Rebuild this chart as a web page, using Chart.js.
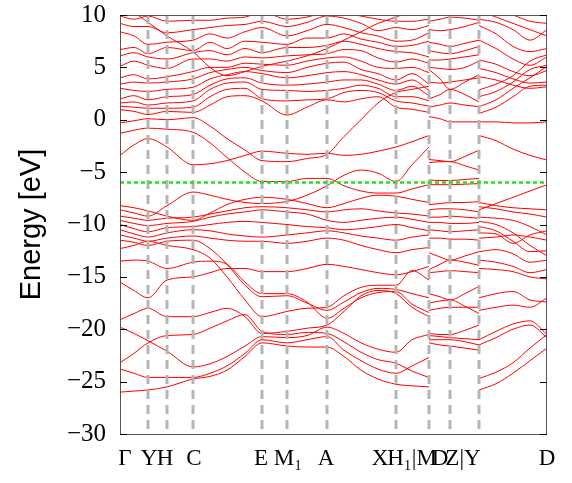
<!DOCTYPE html>
<html>
<head>
<meta charset="utf-8">
<script src="https://cdn.jsdelivr.net/npm/chart.js@4"></script>
<style>
  body { margin: 0; background: #fff; }
  #wrap { width: 572px; height: 483px; }
</style>
</head>
<body>
<div id="wrap"><canvas id="bands"></canvas></div>
<script>
// high-symmetry points along the path (arbitrary k units)
const kSym = [28, 47, 73, 142, 167, 207, 276, 309, 330, 359];
// label positions as they sit under the axis
const kTicks = [5, 29, 45, 74, 141, 168, 206, 260, 292, 320, 343, 427];
const kLabels = ['Γ', 'Y', 'H', 'C', 'E', 'M₁', 'A', 'X', 'H₁|M', 'D', 'Z|Y', 'D'];
const fermiLevel = -6;

// segment Γ ... H1
const kA = [0, 14, 28, 47, 73, 90, 107, 125, 142, 167, 187, 207, 224, 241, 258, 276, 292, 309];
// segment M - D - Z
const kB = [309, 320, 330, 345, 359];
// segment Y - D
const kC = [359, 376, 393, 410, 427];

// energies (eV) at kA
const bandsA = [
  [-26.0,-25.9,-25.8,-25.5,-24.75,-24.5,-23.9,-22.6,-21.3,-21.6,-21.7,-21.7,-22.6,-23.9,-24.75,-25.25,-25.4,-25.5],
  [-23.8,-24.2,-24.6,-24.6,-24.6,-24.2,-23.5,-22.3,-21.0,-21.3,-21.0,-20.7,-22.0,-23.0,-23.8,-24.2,-23.5,-22.7],
  [-23.2,-22.3,-21.3,-20.6,-20.5,-19.9,-19.2,-18.6,-20.2,-20.5,-20.3,-20.4,-21.2,-22.2,-22.9,-23.25,-24.0,-24.6],
  [-19.8,-20.4,-21.1,-22.1,-23.6,-23.3,-22.6,-21.6,-20.7,-20.8,-20.6,-19.8,-20.4,-21.3,-21.9,-22.2,-21.0,-20.5],
  [-19.1,-18.5,-18.0,-18.8,-18.8,-18.4,-18.0,-18.8,-20.4,-20.2,-19.9,-19.6,-18.3,-16.8,-16.3,-16.6,-17.9,-18.8],
  [-15.5,-16.3,-17.0,-15.3,-15.0,-14.6,-14.2,-14.2,-14.5,-14.5,-14.2,-13.8,-14.0,-14.3,-14.6,-14.8,-14.5,-14.0],
  [-12.3,-12.0,-11.6,-12.0,-12.4,-13.2,-15.0,-17.2,-18.8,-18.3,-18.0,-17.9,-16.8,-16.0,-15.8,-15.8,-14.4,-15.3],
  [-11.5,-11.7,-12.0,-11.6,-11.5,-12.3,-13.8,-15.8,-16.9,-16.8,-17.5,-18.2,-17.4,-16.5,-16.1,-16.2,-16.6,-17.0],
  [-11.0,-11.3,-11.6,-11.3,-11.1,-11.3,-11.5,-11.6,-11.6,-11.8,-11.6,-11.3,-11.5,-12.0,-12.4,-12.7,-12.4,-12.2],
  [-13.5,-13.4,-13.5,-14.2,-13.6,-13.5,-13.8,-15.5,-16.6,-16.6,-17.4,-18.95,-18.0,-17.0,-16.5,-16.4,-17.6,-18.4],
  [-10.5,-10.9,-11.2,-10.8,-10.5,-10.6,-10.9,-11.1,-11.2,-11.0,-10.8,-10.6,-10.8,-11.1,-11.3,-11.5,-11.2,-11.0],
  [-10.0,-10.4,-10.7,-10.3,-10.2,-10.0,-9.8,-9.7,-9.8,-10.0,-10.2,-10.3,-10.5,-10.4,-10.2,-10.0,-10.3,-10.6],
  [-9.6,-9.9,-10.1,-9.9,-9.7,-9.3,-9.0,-8.8,-8.6,-8.8,-9.0,-9.6,-9.8,-9.6,-9.4,-9.3,-9.5,-9.8],
  [-9.2,-9.4,-9.6,-9.4,-9.3,-9.0,-8.7,-8.4,-8.3,-8.4,-8.6,-8.8,-8.6,-8.5,-8.7,-8.9,-9.0,-9.2],
  [-8.6,-8.9,-9.2,-8.2,-6.9,-7.2,-7.6,-7.9,-8.0,-7.8,-7.2,-6.3,-5.3,-4.8,-5.1,-5.9,-4.3,-2.6],
  [-8.2,-8.4,-8.7,-9.2,-9.6,-8.9,-8.1,-7.6,-7.4,-7.6,-8.0,-8.4,-8.0,-7.5,-7.2,-7.3,-7.6,-7.9],
  [-3.4,-2.4,-1.8,-2.6,-4.3,-4.2,-3.9,-3.4,-3.0,-3.2,-3.3,-3.2,-3.4,-3.3,-3.0,-2.6,-2.1,-1.5],
  [-1.3,-1.0,-0.8,-0.9,-1.2,-2.2,-3.6,-5.0,-5.9,-5.9,-5.6,-5.6,-6.3,-6.8,-7.0,-7.0,-6.6,-6.2],
  [-0.3,-0.1,0.1,0.0,0.2,-0.6,-1.8,-2.9,-3.9,-4.0,-3.7,-3.3,-1.6,0.0,1.6,2.6,2.9,3.2],
  [0.97,0.8,0.5,0.8,0.7,1.4,2.2,2.3,1.8,0.45,1.2,1.9,1.7,2.0,2.2,1.2,1.0,0.7],
  [1.3,1.2,1.1,1.1,1.2,2.2,2.9,3.0,2.0,1.8,1.9,2.0,2.6,2.8,2.6,1.8,1.6,1.3],
  [1.6,1.7,1.4,1.6,1.8,2.9,3.5,3.6,2.9,2.8,2.7,2.8,3.0,3.3,3.0,2.2,2.2,1.8],
  [2.0,2.3,1.9,2.2,2.4,3.3,3.9,4.0,3.5,3.3,3.4,3.6,3.8,3.8,3.4,2.8,3.2,2.3],
  [3.0,2.8,2.7,2.9,3.1,3.9,4.3,4.6,4.4,4.0,4.2,4.5,4.6,4.3,3.8,3.4,3.8,2.8],
  [3.4,3.6,3.5,3.6,3.9,4.5,4.8,5.0,4.7,4.5,5.0,5.4,5.5,4.8,4.4,3.8,4.4,3.4],
  [4.0,4.3,3.9,4.1,4.6,5.0,5.0,5.4,5.3,5.2,5.6,5.9,6.0,5.6,5.0,4.9,5.0,4.5],
  [5.1,5.6,5.2,4.9,5.8,5.8,5.6,6.0,5.9,6.1,6.2,6.3,6.7,6.6,5.9,5.5,5.8,5.4],
  [6.1,6.4,6.0,5.8,6.4,6.6,6.2,6.8,6.4,6.9,6.9,7.1,7.5,7.2,6.8,6.5,6.4,6.0],
  [6.7,6.9,6.3,6.9,6.6,7.4,6.8,7.5,7.4,7.2,7.8,7.8,8.2,7.7,7.4,7.0,7.1,7.5],
  [8.4,8.0,7.2,7.4,7.6,8.2,7.8,8.4,8.8,8.0,8.5,9.1,8.8,8.3,8.0,7.5,7.6,8.3],
  [9.2,8.9,8.9,8.3,8.6,8.8,9.0,9.1,9.4,8.9,9.3,9.9,9.7,9.2,8.5,8.8,8.6,9.0],
  [9.9,9.6,9.9,9.4,9.5,9.5,9.7,9.8,10.3,9.6,9.8,10.3,10.2,9.9,9.6,9.4,9.4,9.6],
  [10.5,10.4,10.3,10.2,10.1,10.0,10.3,10.3,10.6,10.3,10.3,10.8,10.8,10.5,10.2,10.0,10.3,10.3],
  [10.6,10.2,9.3,8.0,6.5,5.0,4.2,4.6,5.1,5.6,6.1,6.8,7.6,8.4,9.2,9.8,10.4,10.8]
];

// energies (eV) at kB
const bandsB = [
  [-21.3,-21.5,-21.6,-21.8,-22.0],
  [-21.0,-21.0,-21.0,-21.2,-21.5],
  [-20.4,-20.5,-20.5,-20.1,-19.6],
  [-20.6,-20.7,-20.8,-20.9,-21.0],
  [-16.6,-16.9,-17.2,-16.6,-15.9],
  [-17.5,-17.3,-17.2,-17.8,-18.5],
  [-18.2,-18.0,-17.9,-17.9,-17.9],
  [-12.7,-13.1,-13.4,-13.0,-12.6],
  [-14.3,-13.8,-13.4,-13.6,-13.9],
  [-14.6,-14.5,-14.4,-14.5,-14.6],
  [-11.3,-11.3,-11.4,-11.4,-11.5],
  [-10.5,-10.6,-10.7,-10.6,-10.5],
  [-9.8,-9.8,-9.9,-9.9,-9.8],
  [-9.3,-9.3,-9.2,-9.3,-9.4],
  [-8.1,-8.0,-7.9,-7.9,-7.8],
  [-8.6,-8.5,-8.5,-8.6,-8.8],
  [-5.75,-5.8,-5.8,-5.7,-5.6],
  [-6.2,-6.2,-6.2,-6.15,-6.1],
  [-3.8,-3.9,-4.0,-3.5,-2.9],
  [-4.1,-4.0,-4.0,-4.4,-4.8],
  [0.3,0.1,-0.2,-0.2,-0.2],
  [1.2,1.4,1.6,1.4,1.25],
  [4.8,3.9,2.9,3.6,4.3],
  [2.0,2.4,2.9,2.4,1.7],
  [3.6,3.5,3.6,3.8,4.0],
  [5.0,4.9,4.8,5.0,5.6],
  [5.7,5.7,5.8,6.0,6.2],
  [6.6,6.4,6.3,6.6,7.0],
  [7.4,7.2,7.0,7.3,7.6],
  [8.6,8.5,8.6,8.9,9.3],
  [9.4,9.6,9.8,9.7,9.5]
];

// energies (eV) at kC
const bandsC = [
  [-25.8,-25.2,-24.2,-23.0,-21.8],
  [-24.7,-24.1,-23.2,-21.8,-20.5],
  [-21.0,-20.2,-19.5,-19.2,-20.5],
  [-21.5,-20.8,-20.0,-19.6,-20.8],
  [-17.0,-16.6,-16.4,-17.2,-17.4],
  [-18.2,-17.9,-17.7,-17.9,-17.0],
  [-13.4,-13.6,-14.0,-14.6,-14.3],
  [-12.6,-12.4,-12.8,-13.6,-13.4],
  [-14.2,-14.3,-14.5,-15.0,-15.2],
  [-9.7,-10.0,-10.8,-12.0,-13.0],
  [-10.2,-10.6,-11.6,-12.6,-12.5],
  [-11.3,-11.2,-11.0,-11.2,-11.5],
  [-9.3,-9.4,-9.6,-10.2,-11.0],
  [-10.8,-10.9,-11.8,-11.0,-10.6],
  [-8.6,-8.0,-7.4,-6.8,-6.2],
  [-7.9,-8.2,-8.4,-8.5,-8.6],
  [-8.3,-8.5,-8.8,-9.0,-9.3],
  [-1.5,-2.0,-2.8,-3.4,-3.85],
  [-0.2,-0.2,-0.3,-0.3,-0.2],
  [0.6,1.2,2.2,3.2,3.3],
  [1.25,1.9,3.0,4.0,5.1],
  [2.2,2.7,3.6,4.8,5.2],
  [2.85,3.4,4.2,5.6,6.2],
  [4.1,3.8,3.3,3.0,3.15],
  [4.9,4.5,3.9,3.5,3.6],
  [5.7,5.3,4.6,4.2,4.7],
  [7.6,6.8,5.8,5.2,6.0],
  [9.0,8.2,7.0,6.5,6.8],
  [9.6,9.3,8.6,7.6,8.6],
  [10.4,9.8,9.2,8.6,8.0],
  [10.6,10.5,10.0,9.4,9.2]
];

const yMin = -30, yMax = 10;

function toPoints(ks, energies) {
  return ks.map((k, i) => ({ x: k, y: energies[i] }));
}

const datasets = [];

// Fermi level (on top)
datasets.push({
  data: [{ x: 0, y: fermiLevel }, { x: 427, y: fermiLevel }],
  borderColor: '#22e022',
  borderWidth: 2.5,
  borderDash: [4, 3],
  pointRadius: 0,
  tension: 0,
  order: 0
});

// vertical dashed lines at the high-symmetry points
kSym.forEach(k => {
  datasets.push({
    data: [{ x: k, y: yMax }, { x: k, y: yMin }],
    borderColor: '#b5b5b5',
    borderWidth: 3,
    borderDash: [9, 6],
    pointRadius: 0,
    tension: 0,
    order: 1
  });
});

[[kA, bandsA], [kB, bandsB], [kC, bandsC]].forEach(([ks, bands]) => {
  bands.forEach(b => {
    datasets.push({
      data: toPoints(ks, b),
      borderColor: '#ff0000',
      borderWidth: 1,
      pointRadius: 0,
      cubicInterpolationMode: 'monotone',
      order: 2
    });
  });
});

// frame and inner ticks like the original plot
const framePlugin = {
  id: 'frame',
  afterDraw(chart) {
    const { ctx, chartArea: a, scales } = chart;
    ctx.save();
    ctx.strokeStyle = '#555';
    ctx.lineWidth = 1;
    ctx.strokeRect(a.left + 0.5, a.top + 0.5, a.right - a.left - 1, a.bottom - a.top);
    ctx.strokeStyle = '#000';
    scales.y.ticks.forEach(t => {
      const y = Math.round(scales.y.getPixelForValue(t.value)) + 0.5;
      ctx.beginPath();
      ctx.moveTo(a.left, y); ctx.lineTo(a.left + 7, y);
      ctx.moveTo(a.right - 7, y); ctx.lineTo(a.right, y);
      ctx.stroke();
    });
    ctx.restore();
  }
};

new Chart(document.getElementById('bands'), {
  type: 'line',
  data: { datasets: datasets },
  options: {
    responsive: true,
    maintainAspectRatio: false,
    animation: false,
    events: [],
    layout: { padding: { left: 0, top: 15, right: 25, bottom: 0 } },
    plugins: { legend: { display: false }, tooltip: { enabled: false } },
    scales: {
      x: {
        type: 'linear',
        min: 0,
        max: 427,
        afterBuildTicks: scale => { scale.ticks = kTicks.map(v => ({ value: v })); },
        afterFit: scale => { scale.height = 49; scale.paddingLeft = 0; scale.paddingRight = 0; },
        ticks: {
          autoSkip: false,
          maxRotation: 0,
          minRotation: 0,
          padding: 11,
          color: '#000',
          font: { family: "'Liberation Serif', 'Times New Roman', serif", size: 23 },
          callback: (value, index) => kLabels[index]
        },
        grid: { display: false, drawTicks: false },
        border: { display: false }
      },
      y: {
        min: yMin,
        max: yMax,
        afterFit: scale => { scale.width = 120; scale.paddingTop = 0; scale.paddingBottom = 0; },
        ticks: {
          stepSize: 5,
          padding: 6,
          color: '#000',
          font: { family: "'Liberation Serif', 'Times New Roman', serif", size: 25 },
          callback: value => (value < 0 ? '\u2212' + Math.abs(value) : String(value))
        },
        grid: { display: false },
        border: { display: false },
        title: {
          display: true,
          text: 'Energy [eV]',
          color: '#000',
          font: { family: "'Liberation Sans', Arial, sans-serif", size: 29 },
          padding: { top: 15, bottom: 0 }
        }
      }
    }
  },
  plugins: [framePlugin]
});
</script>
</body>
</html>
